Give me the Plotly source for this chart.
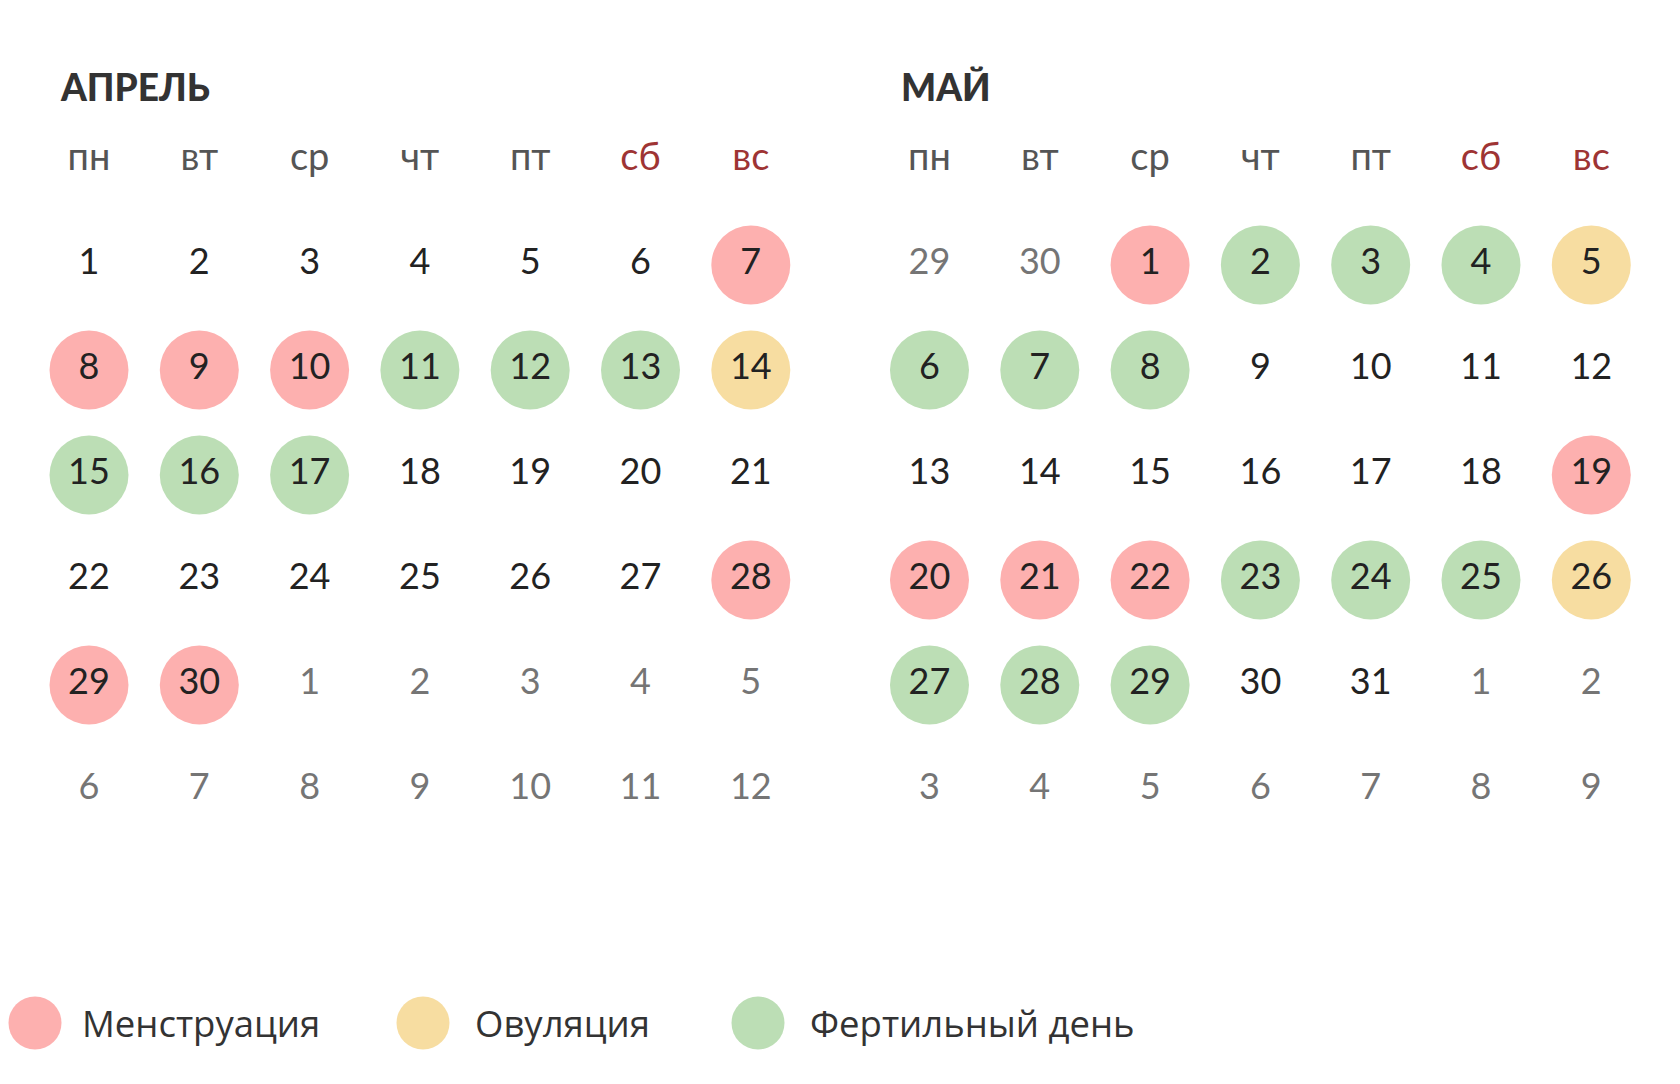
import plotly.graph_objects as go

# Календарь: апрель и май, статус дней цикла
WEEKDAYS = ["пн", "вт", "ср", "чт", "пт", "сб", "вс"]
MONTHS = ["АПРЕЛЬ", "МАЙ"]

# сетка дней (6 недель по 7 дней), с днями соседних месяцев
APRIL_GRID = [1, 2, 3, 4, 5, 6, 7,
              8, 9, 10, 11, 12, 13, 14,
              15, 16, 17, 18, 19, 20, 21,
              22, 23, 24, 25, 26, 27, 28,
              29, 30, 1, 2, 3, 4, 5,
              6, 7, 8, 9, 10, 11, 12]
MAY_GRID = [29, 30, 1, 2, 3, 4, 5,
            6, 7, 8, 9, 10, 11, 12,
            13, 14, 15, 16, 17, 18, 19,
            20, 21, 22, 23, 24, 25, 26,
            27, 28, 29, 30, 31, 1, 2,
            3, 4, 5, 6, 7, 8, 9]
# кол-во "чужих" дней в начале сетки и длина месяца
APRIL_LEAD, APRIL_LEN = 0, 30
MAY_LEAD, MAY_LEN = 2, 31

APRIL_MENS = [7, 8, 9, 10, 28, 29, 30]
APRIL_OVUL = [14]
APRIL_FERT = [11, 12, 13, 15, 16, 17]
MAY_MENS = [1, 19, 20, 21, 22]
MAY_OVUL = [5, 26]
MAY_FERT = [2, 3, 4, 6, 7, 8, 23, 24, 25, 27, 28, 29]

LEGEND_LABELS = ["Менструация", "Овуляция", "Фертильный день"]

COLORS = {"mens": "#FDB0AF", "ovul": "#F7DDA1", "fert": "#BCDEB5"}
DAY_COLOR = "#222222"
OTHER_COLOR = "#757575"
HEAD_COLOR = "#555555"
WEEKEND_COLOR = "#9E3434"
FONT_NUM = "Lato, Noto Sans, sans-serif"
FONT_TXT = "Open Sans, Noto Sans, sans-serif"

# геометрия (единицы осей: 1 = одна колонка / одна строка)
COL_PX, ROW_PX = 110.3, 105.0
X0_PX, Y0_PX = 81, 257
MONTH_OFFSET = 7.62
W, H = 1680, 1084

fig = go.Figure()

months = [
    (APRIL_GRID, APRIL_LEAD, APRIL_LEN, APRIL_MENS, APRIL_OVUL, APRIL_FERT),
    (MAY_GRID, MAY_LEAD, MAY_LEN, MAY_MENS, MAY_OVUL, MAY_FERT),
]

for m, (grid, lead, length, mens, ovul, fert) in enumerate(months):
    off = m * MONTH_OFFSET
    xs, ys, txt, tcol = [], [], [], []
    circ = {"mens": ([], []), "ovul": ([], []), "fert": ([], [])}
    for i, d in enumerate(grid):
        col, row = i % 7, i // 7
        current = lead <= i < lead + length
        x, y = col + off, row
        xs.append(x)
        ys.append(y)
        txt.append(str(d))
        tcol.append(DAY_COLOR if current else OTHER_COLOR)
        if current:
            for key, lst in (("mens", mens), ("ovul", ovul), ("fert", fert)):
                if d in lst:
                    circ[key][0].append(x)
                    circ[key][1].append(y)
    for key, (cx, cy) in circ.items():
        fig.add_trace(go.Scatter(
            x=cx, y=cy, mode="markers",
            marker=dict(size=79, color=COLORS[key], line=dict(width=0)),
            hoverinfo="skip", showlegend=False,
        ))
    fig.add_trace(go.Scatter(
        x=xs, y=ys, mode="text", text=txt,
        textfont=dict(family=FONT_NUM, size=36, color=tcol),
        hoverinfo="skip", showlegend=False,
    ))
    # дни недели
    fig.add_trace(go.Scatter(
        x=[c + off for c in range(7)], y=[-0.995] * 7, mode="text",
        text=WEEKDAYS,
        textfont=dict(family=FONT_NUM, size=38,
                      color=[HEAD_COLOR] * 5 + [WEEKEND_COLOR] * 2),
        hoverinfo="skip", showlegend=False,
    ))
    fig.add_annotation(
        x=off - 0.28, y=-1.70, text=MONTHS[m],
        showarrow=False, xanchor="left", yanchor="middle",
        font=dict(family="Lato, Noto Sans, sans-serif", size=37,
                  color="#333333", weight=900),
    )

# легенда
leg_x = [(27 - X0_PX) / COL_PX, (415 - X0_PX) / COL_PX, (750 - X0_PX) / COL_PX]
leg_y = (1015 - Y0_PX) / ROW_PX
for lx, lab, key in zip(leg_x, LEGEND_LABELS, ["mens", "ovul", "fert"]):
    fig.add_trace(go.Scatter(
        x=[lx], y=[leg_y], mode="markers",
        marker=dict(size=53, color=COLORS[key], line=dict(width=0)),
        cliponaxis=False, hoverinfo="skip", showlegend=False,
    ))
fig.add_annotation(
    x=(72 - X0_PX) / COL_PX, y=leg_y, text=LEGEND_LABELS[0], showarrow=False,
    xanchor="left", yanchor="middle",
    font=dict(family=FONT_TXT, size=36.5, color="#333333"),
)
for lx, lab in zip(leg_x[1:], LEGEND_LABELS[1:]):
    fig.add_annotation(
        x=lx + 0.45, y=leg_y, text=lab, showarrow=False,
        xanchor="left", yanchor="middle",
        font=dict(family=FONT_TXT, size=36.5, color="#333333"),
    )

fig.update_layout(
    width=W, height=H,
    margin=dict(l=0, r=0, t=0, b=0),
    plot_bgcolor="white", paper_bgcolor="white",
    xaxis=dict(range=[-X0_PX / COL_PX, (W - X0_PX) / COL_PX], visible=False,
               fixedrange=True),
    yaxis=dict(range=[(H - Y0_PX) / ROW_PX, -Y0_PX / ROW_PX], visible=False,
               fixedrange=True),
    showlegend=False,
)

fig.write_html("out.html", config={"displayModeBar": False})
